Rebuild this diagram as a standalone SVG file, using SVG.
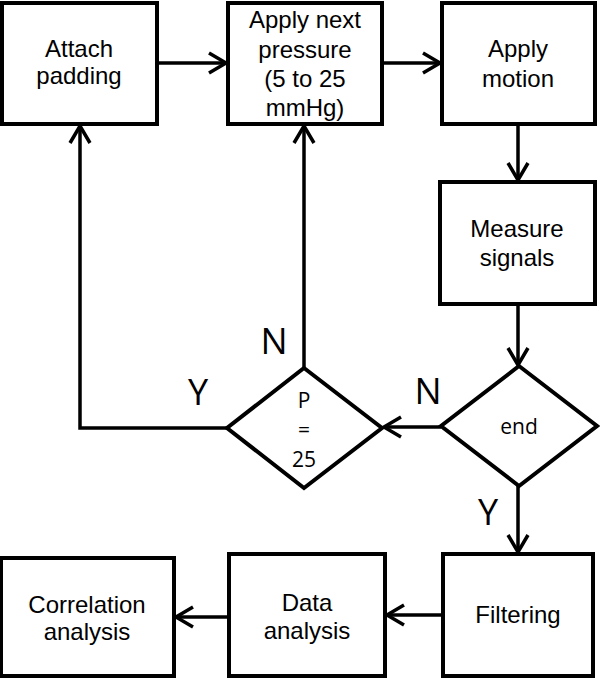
<svg xmlns="http://www.w3.org/2000/svg" width="600" height="678" viewBox="0 0 600 678">
<style>
.box{fill:#fff;stroke:#000;stroke-width:4}
.t{font-family:"Liberation Sans",Arial,sans-serif;font-size:24px;fill:#000;text-anchor:middle}
.d{font-family:"Open Sans","Noto Sans",sans-serif;font-size:21px;fill:#000;text-anchor:middle}
.lbl{font-family:"Open Sans","Noto Sans",sans-serif;font-size:36px;fill:#000;text-anchor:middle}
.c{fill:none;stroke:#000;stroke-width:3.5;marker-end:url(#ah)}
</style>
<defs>
<marker id="ah" markerUnits="userSpaceOnUse" markerWidth="30" markerHeight="30" viewBox="-22 -15 30 30" refX="0" refY="0" orient="auto" overflow="visible">
<path d="M-17,-10 L0,0 L-17,10" fill="none" stroke="#000" stroke-width="3.5"/>
</marker>
</defs>
<rect width="600" height="678" fill="#fff"/>
<g id="connectors">
<line class="c" x1="157" y1="63" x2="226" y2="63"/>
<line class="c" x1="382" y1="63" x2="440" y2="63"/>
<line class="c" x1="518" y1="124" x2="518" y2="180"/>
<line class="c" x1="518" y1="304" x2="518" y2="365"/>
<line class="c" x1="441" y1="427" x2="384" y2="427"/>
<line class="c" x1="304" y1="368" x2="304" y2="126"/>
<polyline class="c" points="227,428 80,428 80,126"/>
<line class="c" x1="518" y1="486" x2="518" y2="552"/>
<line class="c" x1="443" y1="615" x2="387" y2="615"/>
<line class="c" x1="229" y1="617" x2="176" y2="617"/>
<text class="lbl" x="274" y="354">N</text>
<text class="lbl" x="428" y="404">N</text>
<text class="lbl" x="198" y="405">Y</text>
<text class="lbl" x="488" y="525">Y</text>
</g>
<g id="attach">
<rect class="box" x="2" y="3" width="155" height="121"/>
<text class="t" x="79" y="57">Attach</text>
<text class="t" x="79" y="84">padding</text>
</g>
<g id="apply-pressure">
<rect class="box" x="228" y="3" width="154" height="121"/>
<text class="t" x="305" y="28">Apply next</text>
<text class="t" x="305" y="58">pressure</text>
<text class="t" x="305" y="87">(5 to 25</text>
<text class="t" x="305" y="116">mmHg)</text>
</g>
<g id="apply-motion">
<rect class="box" x="442" y="3" width="153" height="121"/>
<text class="t" x="518" y="57">Apply</text>
<text class="t" x="518" y="87">motion</text>
</g>
<g id="measure">
<rect class="box" x="440" y="182" width="155" height="122"/>
<text class="t" x="517" y="237">Measure</text>
<text class="t" x="517" y="266">signals</text>
</g>
<g id="end">
<polygon class="box" points="519,366 597,426 519,486 441,426"/>
<text class="d" x="519" y="434">end</text>
</g>
<g id="p25">
<polygon class="box" points="304,368 382,428 304,488 227,428"/>
<text class="d" x="304" y="408">P</text>
<text class="d" x="304" y="437">=</text>
<text class="d" x="304" y="467">25</text>
</g>
<g id="filtering">
<rect class="box" x="443" y="554" width="150" height="122"/>
<text class="t" x="518" y="623">Filtering</text>
</g>
<g id="data">
<rect class="box" x="229" y="554" width="156" height="122"/>
<text class="t" x="307" y="611">Data</text>
<text class="t" x="307" y="639">analysis</text>
</g>
<g id="correlation">
<rect class="box" x="1" y="558" width="173" height="118"/>
<text class="t" x="87" y="613">Correlation</text>
<text class="t" x="87" y="640">analysis</text>
</g>
</svg>
